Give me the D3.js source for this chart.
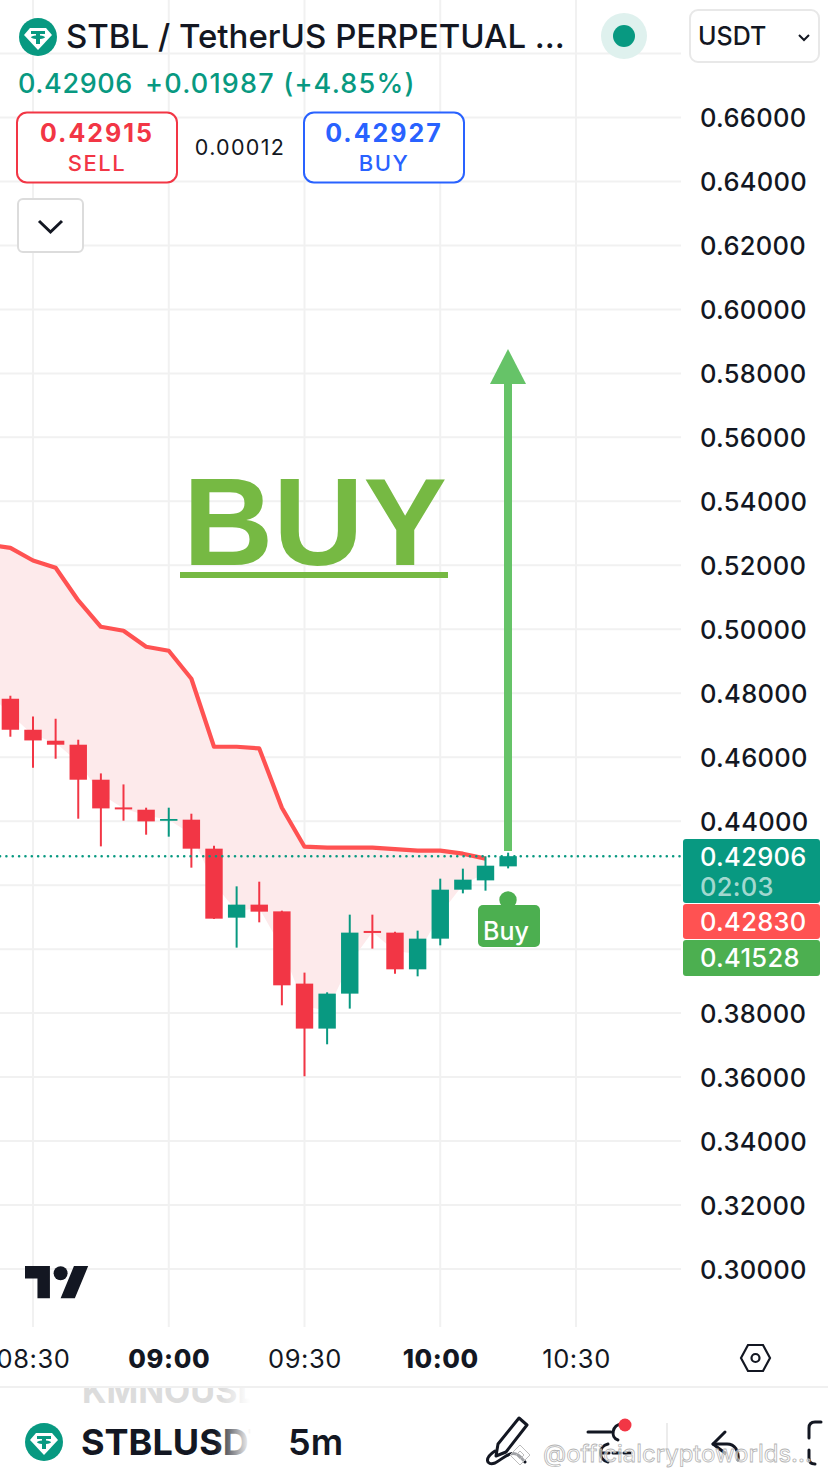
<!DOCTYPE html>
<html>
<head>
<meta charset="utf-8">
<script src="https://cdn.jsdelivr.net/npm/d3@7"></script>
<style>
  body { margin: 0; background: #fff; }
  text { font-family: Inter, "Noto Sans", sans-serif; }
</style>
</head>
<body>
<div id="chart"></div>
<script>
// 5m candles
var times = ["08:25","08:30","08:35","08:40","08:45","08:50","08:55","09:00","09:05","09:10","09:15","09:20",
             "09:25","09:30","09:35","09:40","09:45","09:50","09:55","10:00","10:05","10:10","10:15"];
var opens  = [0.47828,0.46859,0.46516,0.46391,0.45297,0.44431,0.44359,0.44025,0.44047,0.43141,0.40984,0.41391,
              0.41181,0.38922,0.37516,0.38609,0.40569,0.40516,0.39369,0.40328,0.41859,0.42150,0.42588];
var highs  = [0.47922,0.47275,0.47203,0.46547,0.45494,0.45150,0.44422,0.44422,0.44234,0.43234,0.41963,0.42109,
              0.41203,0.39266,0.38650,0.41078,0.41078,0.40547,0.40578,0.42203,0.42516,0.42900,0.43016];
var lows   = [0.46641,0.45672,0.45953,0.44078,0.43213,0.44016,0.43578,0.43516,0.42547,0.40940,0.40047,0.40838,
              0.38244,0.36025,0.37025,0.38141,0.40016,0.39234,0.39150,0.40119,0.41744,0.41828,0.42525];
var closes = [0.46859,0.46525,0.46391,0.45297,0.44400,0.44369,0.43994,0.44069,0.43141,0.40953,0.41391,0.41172,
              0.38869,0.37516,0.38609,0.40516,0.40506,0.39369,0.40328,0.41859,0.42172,0.42609,0.42906];
// red stop line, runs one bar further left than the first whole candle
var stopTimes = ["08:20","08:25","08:30","08:35","08:40","08:45","08:50","08:55","09:00","09:05","09:10","09:15",
                 "09:20","09:25","09:30","09:35","09:40","09:45","09:50","09:55","10:00","10:05","10:10"];
var stopValues = [0.52641,0.52547,0.52150,0.51922,0.50900,0.50078,0.49953,0.49453,0.49328,0.48453,0.46328,0.46328,
                  0.46275,0.44422,0.43203,0.43172,0.43172,0.43172,0.43125,0.43078,0.43078,0.42984,0.42830];
var gridPrices = [0.68,0.66,0.64,0.62,0.60,0.58,0.56,0.54,0.52,0.50,0.48,0.46,0.44,0.42,0.40,0.38,0.36,0.34,0.32,0.30];
var labelPrices = [0.66,0.64,0.62,0.60,0.58,0.56,0.54,0.52,0.50,0.48,0.46,0.44,0.38,0.36,0.34,0.32,0.30];
var timeTicks = ["08:30","09:00","09:30","10:00","10:30"];
var boldTicks = ["09:00","10:00"];
var lastPrice = 0.42906;

const RED = "#f23645", GREEN = "#089981", LIME = "#4caf50";
var width = 828, height = 1480;
var parseT = d3.timeParse("%H:%M");

var svg = d3.select("#chart").append("svg")
    .attr("width", width).attr("height", height)
    .style("display", "block");

var x = d3.scaleTime().domain([parseT("08:30"), parseT("10:30")]).range([33, 576]);
var y = d3.scaleLinear().domain([0.30, 0.66]).range([1269, 117.5]);

var defs = svg.append("defs");
defs.append("clipPath").attr("id", "plot").append("rect")
    .attr("x", 0).attr("y", 0).attr("width", 682).attr("height", 1327);
defs.append("clipPath").attr("id", "ghost").append("rect")
    .attr("x", 0).attr("y", 1388).attr("width", 250).attr("height", 40);
var fade = defs.append("linearGradient").attr("id", "fade");
fade.append("stop").attr("offset", "0").attr("stop-color", "#fff").attr("stop-opacity", 0);
fade.append("stop").attr("offset", "1").attr("stop-color", "#fff").attr("stop-opacity", 1);

// grid
svg.append("g").selectAll("line").data(gridPrices).enter().append("line")
    .attr("x1", 0).attr("x2", 681)
    .attr("y1", d => y(d)).attr("y2", d => y(d))
    .attr("stroke", "#f1f1f1").attr("stroke-width", 2);
svg.append("g").selectAll("line").data(timeTicks).enter().append("line")
    .attr("x1", d => x(parseT(d))).attr("x2", d => x(parseT(d)))
    .attr("y1", 0).attr("y2", 1327)
    .attr("stroke", "#f1f1f1").attr("stroke-width", 2);

var plot = svg.append("g").attr("clip-path", "url(#plot)");

// fill between the stop line and the candle body middles
var fillRows = stopTimes.map(function(t, i) {
    var j = times.indexOf(t);
    var mid = j >= 0 ? (opens[j] + closes[j]) / 2 : opens[0] + 0.002;
    return { t: parseT(t), stop: stopValues[i], mid: mid };
});
plot.append("path").datum(fillRows)
    .attr("fill", "#fdeaeb")
    .attr("d", d3.area().x(d => x(d.t)).y0(d => y(d.mid)).y1(d => y(d.stop)));
plot.append("path").datum(fillRows)
    .attr("fill", "none").attr("stroke", "#ff5252").attr("stroke-width", 4.2).attr("stroke-linejoin", "round")
    .attr("d", d3.line().x(d => x(d.t)).y(d => y(d.stop)));

// last price dotted line
svg.append("line")
    .attr("x1", 0).attr("x2", 682).attr("y1", y(lastPrice)).attr("y2", y(lastPrice))
    .attr("stroke", GREEN).attr("stroke-width", 2.5)
    .attr("stroke-linecap", "round").attr("stroke-dasharray", "0.1 6.25");

// candles
var bars = times.map(function(t, i) {
    return { t: parseT(t), o: opens[i], h: highs[i], l: lows[i], c: closes[i] };
});
var candle = plot.append("g").selectAll("g").data(bars).enter().append("g");
candle.append("line")
    .attr("x1", d => x(d.t)).attr("x2", d => x(d.t))
    .attr("y1", d => y(d.h)).attr("y2", d => y(d.l))
    .attr("stroke", d => d.c >= d.o ? GREEN : RED).attr("stroke-width", 2);
candle.append("rect")
    .attr("x", d => x(d.t) - 8.7).attr("width", 17.4)
    .attr("y", d => y(Math.max(d.o, d.c)))
    .attr("height", d => Math.max(1.8, Math.abs(y(d.o) - y(d.c))))
    .attr("fill", d => d.c >= d.o ? GREEN : RED);

// big annotation
svg.append("text").attr("x", 183).attr("y", 565)
    .attr("fill", "#76b943").attr("font-size", 125).attr("font-weight", 700)
    .style("font-family", "'Liberation Sans', Arial, sans-serif")
    .text("BUY");
svg.append("rect").attr("x", 180).attr("y", 572).attr("width", 268).attr("height", 6).attr("fill", "#76b943");
svg.append("rect").attr("x", 504).attr("y", 380).attr("width", 8).attr("height", 471).attr("fill", "#66c368");
svg.append("path").attr("d", "M508 349L526 384H490Z").attr("fill", "#66c368");

// Buy marker
svg.append("circle").attr("cx", 508).attr("cy", 900).attr("r", 8.7).attr("fill", LIME);
svg.append("rect").attr("x", 478).attr("y", 905).attr("width", 62).attr("height", 42).attr("rx", 5).attr("fill", LIME);
svg.append("text").attr("x", 506).attr("y", 940).attr("text-anchor", "middle")
    .attr("fill", "#fff").attr("font-size", 25).attr("font-weight", 500).text("Buy");

// price axis
var yAxis = svg.append("g").attr("transform", "translate(700,0)")
    .call(d3.axisRight(y).tickValues(labelPrices).tickSize(0).tickPadding(0).tickFormat(d3.format(".5f")));
yAxis.select(".domain").remove();
yAxis.selectAll("text")
    .attr("fill", "#131722").attr("font-size", 25.5).attr("font-weight", 500)
    .style("font-family", "Inter, sans-serif").attr("dy", "0.36em").attr("letter-spacing", 0.3);

// time axis
var xAxis = svg.append("g").attr("transform", "translate(0,1358.5)")
    .call(d3.axisBottom(x).tickValues(timeTicks.map(parseT)).tickSize(0).tickPadding(0)
        .tickFormat(d3.timeFormat("%H:%M")));
xAxis.select(".domain").remove();
xAxis.selectAll("text")
    .attr("fill", "#131722").attr("font-size", 25.5).attr("letter-spacing", 0.6)
    .attr("font-weight", d => boldTicks.indexOf(d3.timeFormat("%H:%M")(d)) >= 0 ? 800 : 400)
    .style("font-family", "Inter, sans-serif").attr("dy", "0.36em").attr("y", 0);

// price tags
var tags = svg.append("g");
tags.append("rect").attr("x", 683).attr("y", 839).attr("width", 137).attr("height", 64).attr("rx", 3).attr("fill", GREEN);
tags.append("rect").attr("x", 683).attr("y", 904).attr("width", 137).attr("height", 35).attr("rx", 3).attr("fill", "#ff5252");
tags.append("rect").attr("x", 683).attr("y", 940).attr("width", 137).attr("height", 36).attr("rx", 3).attr("fill", LIME);
function tagText(t, ty, op) {
    tags.append("text").attr("x", 700).attr("y", ty).attr("dy", "0.36em").attr("fill", "#fff").attr("fill-opacity", op)
        .attr("font-size", 25.5).attr("font-weight", 500).attr("letter-spacing", 0.3).text(t);
}
tagText("0.42906", 857, 1);
tagText("02:03", 887, 0.65);
tagText("0.42830", 922, 1);
tagText("0.41528", 958, 1);

// tether badge
function tether(cx, cy, r) {
    var g = svg.append("g").attr("transform", "translate(" + cx + "," + cy + ") scale(" + r / 19 + ")");
    g.append("circle").attr("r", 19).attr("fill", GREEN);
    g.append("path").attr("d", "M-8 -9H8L14 -2L0 13L-14 -2Z").attr("fill", "#fff");
    g.append("path").attr("d", "M-7 -6H7V-3H2V-1.5C5 -1.2 7 -0.6 7 0.2S5 1.6 2 1.9V7H-2V1.9C-5 1.6 -7 1 -7 0.2S-5 -1.2 -2 -1.5V-3H-7Z")
        .attr("fill", GREEN);
}
tether(38, 37, 19);

// header
svg.append("text").attr("x", 66).attr("y", 48).attr("fill", "#131722").attr("font-size", 33).attr("font-weight", 500)
    .text("STBL / TetherUS PERPETUAL ...");
svg.append("circle").attr("cx", 624).attr("cy", 36).attr("r", 23).attr("fill", "#dff1ee");
svg.append("circle").attr("cx", 624).attr("cy", 36).attr("r", 11).attr("fill", GREEN);
svg.append("rect").attr("x", 690).attr("y", 10).attr("width", 129).attr("height", 52).attr("rx", 8)
    .attr("fill", "#fff").attr("stroke", "#e8e8e8").attr("stroke-width", 2);
svg.append("text").attr("x", 698).attr("y", 45).attr("fill", "#131722").attr("font-size", 25).attr("font-weight", 500).text("USDT");
svg.append("path").attr("d", "M799 35L804 40L809 35").attr("fill", "none").attr("stroke", "#131722").attr("stroke-width", 2);

svg.append("text").attr("x", 18).attr("y", 93).attr("fill", GREEN).attr("font-size", 27).attr("font-weight", 500)
    .attr("letter-spacing", 0.6).text("0.42906");
svg.append("text").attr("x", 145).attr("y", 93).attr("fill", GREEN).attr("font-size", 27).attr("font-weight", 500)
    .attr("letter-spacing", 1.2).text("+0.01987 (+4.85%)");

function quoteBox(bx, col, price, label) {
    svg.append("rect").attr("x", bx).attr("y", 112.5).attr("width", 160).attr("height", 70).attr("rx", 10)
        .attr("fill", "#fff").attr("stroke", col).attr("stroke-width", 2);
    svg.append("text").attr("x", bx + 80).attr("y", 142).attr("text-anchor", "middle").attr("fill", col)
        .attr("font-size", 25).attr("font-weight", 700).attr("letter-spacing", 2).text(price);
    svg.append("text").attr("x", bx + 80).attr("y", 171).attr("text-anchor", "middle").attr("fill", col)
        .attr("font-size", 22).attr("font-weight", 500).attr("letter-spacing", 1.5).text(label);
}
quoteBox(17, RED, "0.42915", "SELL");
quoteBox(304, "#2962ff", "0.42927", "BUY");
svg.append("text").attr("x", 240).attr("y", 155).attr("text-anchor", "middle").attr("fill", "#131722")
    .attr("font-size", 21.5).attr("letter-spacing", 1.3).text("0.00012");

svg.append("rect").attr("x", 18).attr("y", 199).attr("width", 65).attr("height", 53).attr("rx", 5)
    .attr("fill", "#fff").attr("stroke", "#dcdcdc").attr("stroke-width", 2);
svg.append("path").attr("d", "M39 221L50.5 232L62 221").attr("fill", "none").attr("stroke", "#131722").attr("stroke-width", 3);

// TradingView logo
svg.append("path").attr("transform", "translate(25,1259) scale(1.78)")
    .attr("d", "M14 22H7V11H0V4h14v18zM28 22h-8l7.5-18h8L28 22z").attr("fill", "#131722");
svg.append("circle").attr("cx", 60.6).attr("cy", 1273.2).attr("r", 7).attr("fill", "#131722");

// scale settings hexagon
svg.append("path").attr("d", "M748 1345H763L770 1358L763 1371H748L741 1358Z")
    .attr("fill", "none").attr("stroke", "#131722").attr("stroke-width", 2.2);
svg.append("circle").attr("cx", 755.5).attr("cy", 1358).attr("r", 4).attr("fill", "none").attr("stroke", "#131722").attr("stroke-width", 2.2);

// bottom bar
svg.append("line").attr("x1", 0).attr("x2", 828).attr("y1", 1387).attr("y2", 1387).attr("stroke", "#f0f0f0").attr("stroke-width", 2);
svg.append("g").attr("clip-path", "url(#ghost)").append("text")
    .attr("x", 82).attr("y", 1403).attr("fill", "#dcdcdc").attr("font-size", 34).attr("font-weight", 700)
    .text("KMNOUSDT");
svg.append("rect").attr("x", 222).attr("y", 1388).attr("width", 28).attr("height", 20).attr("fill", "url(#fade)");

tether(44, 1442, 19);
svg.append("text").attr("x", 81).attr("y", 1455).attr("fill", "#131722").attr("font-size", 36).attr("font-weight", 700).text("STBLUSDT");
svg.append("rect").attr("x", 215).attr("y", 1415).attr("width", 36).attr("height", 55).attr("fill", "url(#fade)");
svg.append("rect").attr("x", 251).attr("y", 1415).attr("width", 36).attr("height", 55).attr("fill", "#fff");
svg.append("text").attr("x", 288).attr("y", 1455).attr("fill", "#131722").attr("font-size", 36).attr("font-weight", 600).text("5m");

// toolbar icons
var ic = svg.append("g").attr("fill", "none").attr("stroke", "#131722").attr("stroke-width", 3).attr("stroke-linecap", "round").attr("stroke-linejoin", "round");
ic.append("path").attr("d", "M519 1418L527 1425L506 1452L496 1456L498 1444Z");
ic.append("path").attr("d", "M495 1451C484 1458 486 1466 495 1463C503 1459 510 1450 518 1455C521 1457 523 1460 525 1462");
ic.append("path").attr("d", "M588 1432H611");
ic.append("path").attr("d", "M622 1424C612 1424 610 1438 618 1440");
ic.append("path").attr("d", "M608 1444C598 1446 598 1460 608 1462");
ic.append("path").attr("d", "M602 1453H630").attr("stroke-dasharray", "7 4");
svg.append("circle").attr("cx", 625).attr("cy", 1425).attr("r", 6.5).attr("fill", RED);
svg.append("line").attr("x1", 667).attr("x2", 667).attr("y1", 1423).attr("y2", 1460).attr("stroke", "#e6e6e6").attr("stroke-width", 1.5);
ic.append("path").attr("d", "M725 1432L713 1444L725 1453");
ic.append("path").attr("d", "M713 1444H727C735 1444 739 1451 738 1460");
ic.append("path").attr("d", "M821 1422H815Q809 1422 809 1428V1438");
ic.append("path").attr("d", "M809 1450V1458Q809 1464 815 1464");

// watermark
svg.append("path").attr("d", "M520 1445L530 1455L520 1465L510 1455Z M520 1451L524 1455L520 1459L516 1455Z")
    .attr("fill", "#fff").attr("fill-opacity", 0.6).attr("stroke", "#bdbdbd").attr("stroke-width", 1);
svg.append("text").attr("x", 543).attr("y", 1462).attr("font-size", 24)
    .attr("fill", "#fff").attr("fill-opacity", 0.55).attr("stroke", "#b5b5b5").attr("stroke-width", 0.8)
    .text("@officialcryptoworlds...");
</script>
</body>
</html>
